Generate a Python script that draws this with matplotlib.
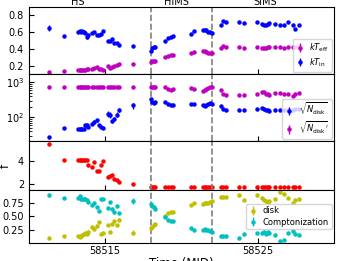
import numpy as np
import matplotlib
matplotlib.use("Agg")
import matplotlib.pyplot as plt

# observation times (MJD)
mjd = [58511.34, 58512.30,
       58513.24, 58513.33, 58513.42, 58513.51, 58513.60, 58513.69, 58513.78, 58513.90,
       58514.13, 58514.30, 58514.46, 58514.59, 58514.72, 58514.85,
       58515.18, 58515.30, 58515.44, 58515.60, 58515.76, 58515.90, 58516.80,
       58517.99, 58518.08, 58518.17, 58518.27, 58518.90, 58519.15, 58519.30, 58519.44,
       58520.62, 58520.84, 58521.40, 58521.52, 58521.64, 58521.76, 58521.88, 58521.98,
       58522.56, 58522.75, 58522.91, 58523.76, 58524.08,
       58524.96, 58525.28, 58525.40, 58525.52, 58525.64, 58525.76,
       58526.15, 58526.45, 58526.70, 58527.00, 58527.30, 58527.45, 58527.70]

kT_in = [0.65, 0.56,
         0.60, 0.61, 0.60, 0.61, 0.60, 0.59, 0.54, 0.57,
         0.585, 0.60, 0.57, 0.57, 0.575, 0.61,
         0.49, 0.49, 0.52, 0.475, 0.465, 0.45, 0.43,
         0.38, 0.415, 0.42, 0.42, 0.49, 0.525, 0.54, 0.55,
         0.575, 0.61, 0.625, 0.62, 0.62, 0.60, 0.605, 0.595,
         0.69, 0.73, 0.72, 0.72, 0.71,
         0.72, 0.70, 0.68, 0.69, 0.70, 0.71,
         0.70, 0.69, 0.69, 0.72, 0.68, 0.64, 0.68]
kT_in_err = [0.035, 0.012] + [0.01] * 6 + [0.025, 0.01] + [0.01] * 47

kT_eff = [0.12, 0.14,
          0.145, 0.145, 0.145, 0.15, 0.15, 0.15, 0.155, 0.155,
          0.16, 0.17, 0.185, 0.165, 0.155, 0.145,
          0.19, 0.17, 0.185, 0.20, 0.205, 0.22, 0.22,
          0.245, 0.25, 0.25, 0.25, 0.30, 0.31, 0.33, 0.33,
          0.35, 0.36, 0.37, 0.37, 0.36, 0.35, 0.355, 0.355,
          0.415, 0.43, 0.428, 0.428, 0.416,
          0.42, 0.41, 0.415, 0.415, 0.418, 0.42,
          0.42, 0.42, 0.415, 0.42, 0.42, 0.42, 0.42]

sqrt_N = [26.6, 48,
          46, 46, 46, 46, 47, 59, 61, 52,
          66, 74, 82, 59, 52, 48,
          125, 118, 76, 92, 120, 165, 218,
          325, 275, 262, 270, 270, 233, 218, 228,
          244, 233, 218, 210, 224, 244, 254, 244,
          205, 176, 158, 158, 158,
          168, 184, 176, 165, 158, 151,
          158, 163, 163, 158, 160, 170, 170]
sqrt_N_err = [3, 3, 2, 2, 2, 2, 2, 6, 8, 4,
              6, 8, 10, 6, 4, 3,
              25, 20, 6, 10, 18, 25, 40,
              25, 12, 10, 10, 10, 10, 8, 8,
              8, 6, 6, 6, 6, 8, 8, 6,
              6, 6, 4, 4, 4,
              5, 8, 5, 4, 4, 4,
              4, 4, 4, 4, 4, 5, 5]

sqrt_N2 = [750] * 27 + [730, 650, 620, 650,
                        700, 650, 556, 600, 640, 690, 720, 750,
                        620, 468, 440, 440, 440,
                        470, 545, 520, 470, 450, 440,
                        490, 490, 470, 470, 420, 450, 500]

f_val = [5.45, 4.06,
         4.1, 4.1, 4.1, 4.1, 4.1, 4.1, 4.1, 3.63,
         3.46, 3.94, 3.17, 3.12, 3.63, 4.0,
         2.6, 2.7, 2.81, 2.44, 2.32, 2.15, 2.0] + [1.75] * 34

frac_disk = [0.10, 0.14,
             0.14, 0.12, 0.14, 0.15, 0.18, 0.19, 0.17, 0.22,
             0.30, 0.26, 0.33, 0.39, 0.18, 0.19,
             0.345, 0.22, 0.36, 0.42, 0.345, 0.44, 0.20,
             0.28, 0.31, 0.34, 0.36, 0.51, 0.56, 0.57, 0.57,
             0.71, 0.74, 0.73, 0.74, 0.74, 0.75, 0.76, 0.78,
             0.85, 0.85, 0.85, 0.88, 0.80,
             0.88, 0.83, 0.80, 0.77, 0.76, 0.78,
             0.82, 0.94, 0.91, 0.83, 0.74, 0.79, 0.81]
frac_comp = [0.88, 0.84,
             0.83, 0.875, 0.82, 0.815, 0.81, 0.815, 0.80, 0.76,
             0.70, 0.74, 0.67, 0.60, 0.81, 0.81,
             0.65, 0.76, 0.64, 0.57, 0.69, 0.56, 0.78,
             0.72, 0.69, 0.66, 0.64, 0.49, 0.43, 0.42, 0.42,
             0.28, 0.25, 0.25, 0.26, 0.25, 0.24, 0.23, 0.22,
             0.13, 0.13, 0.13, 0.10, 0.18,
             0.20, 0.20, 0.22, 0.18, 0.21, 0.20,
             0.15, 0.04, 0.07, 0.20, 0.23, 0.18, 0.16]
frac_err = [0.02] * 22 + [0.05] + [0.02] * 34

state_bounds = [58518, 58522]
state_names = ["HS", "HIMS", "SIMS"]
state_pos = [58513.2, 58519.7, 58525.5]

plt.rcParams['font.size'] = 7.5
plt.rcParams['xtick.direction'] = 'in'
plt.rcParams['ytick.direction'] = 'in'

fig, axes = plt.subplots(4, 1, sharex=True, figsize=(3.52, 2.61), dpi=100,
                         gridspec_kw={'height_ratios': [67, 67, 49, 53], 'hspace': 0})
fig.subplots_adjust(left=0.082, right=0.949, top=0.973, bottom=0.069)
ax1, ax2, ax3, ax4 = axes

ms = 2.2
leg_kw = dict(fontsize=6, handlelength=1.0, handletextpad=0.6, borderpad=0.35,
              labelspacing=0.25, borderaxespad=0.3)

ax1.errorbar(mjd, kT_eff, yerr=0.005, fmt='o', color='m', ms=ms, elinewidth=1, label=r'$kT_{\rm eff}$')
ax1.errorbar(mjd, kT_in, yerr=kT_in_err, fmt='o', color='b', ms=ms, elinewidth=1, label=r'$kT_{\rm in}$')
ax1.set_ylim(0.1, 0.9)
ax1.set_yticks([0.2, 0.4, 0.6, 0.8])
ax1.set_ylabel(r'$kT_{\rm in}$, $kT_{\rm eff}$', fontsize=8.5)
ax1.legend(loc='lower right', **leg_kw)

ax2.errorbar(mjd, sqrt_N, yerr=sqrt_N_err, fmt='o', color='b', ms=ms, elinewidth=1, label=r'$\sqrt{N_{\rm disk}}$')
ax2.errorbar(mjd, sqrt_N2, yerr=10, fmt='o', color='m', ms=ms, elinewidth=1, label=r"$\sqrt{N_{\rm disk}}'$")
ax2.set_yscale('log')
ax2.set_ylim(21, 1730)
ax2.set_ylabel(r"$\sqrt{N_{\rm disk}}'$, $\sqrt{N_{\rm disk}}$", fontsize=7.5)
ax2.legend(loc='lower right', **leg_kw)

ax3.plot(mjd, f_val, 'o', color='r', ms=ms)
ax3.set_ylim(1.5, 5.7)
ax3.set_yticks([2, 4])
ax3.set_ylabel('f', fontsize=8.5)

ax4.errorbar(mjd, frac_disk, yerr=frac_err, fmt='o', color='y', ms=ms, elinewidth=1, label='disk')
ax4.errorbar(mjd, frac_comp, yerr=frac_err, fmt='o', color='c', ms=ms, elinewidth=1, label='Comptonization')
ax4.set_ylim(0.01, 0.98)
ax4.set_yticks([0.25, 0.5, 0.75])
ax4.set_ylabel(r'$\eta$', fontsize=8.5)
ax4.legend(loc='center right', **leg_kw)

for ax in axes:
    ax.tick_params(labelsize=7)
    for b in state_bounds:
        ax.axvline(b, color='gray', ls='--', lw=1.2)

ax4.set_xlim(58510, 58530)
ax4.set_xticks([58515, 58525])
ax4.tick_params(axis='x', pad=2)
ax4.set_xlabel('Time (MJD)', fontsize=8.5, labelpad=1)

for name, pos in zip(state_names, state_pos):
    ax1.text(pos, 1.005, name, transform=ax1.get_xaxis_transform(), ha='center', va='bottom', fontsize=7)

fig.savefig('out.png', dpi=100)
